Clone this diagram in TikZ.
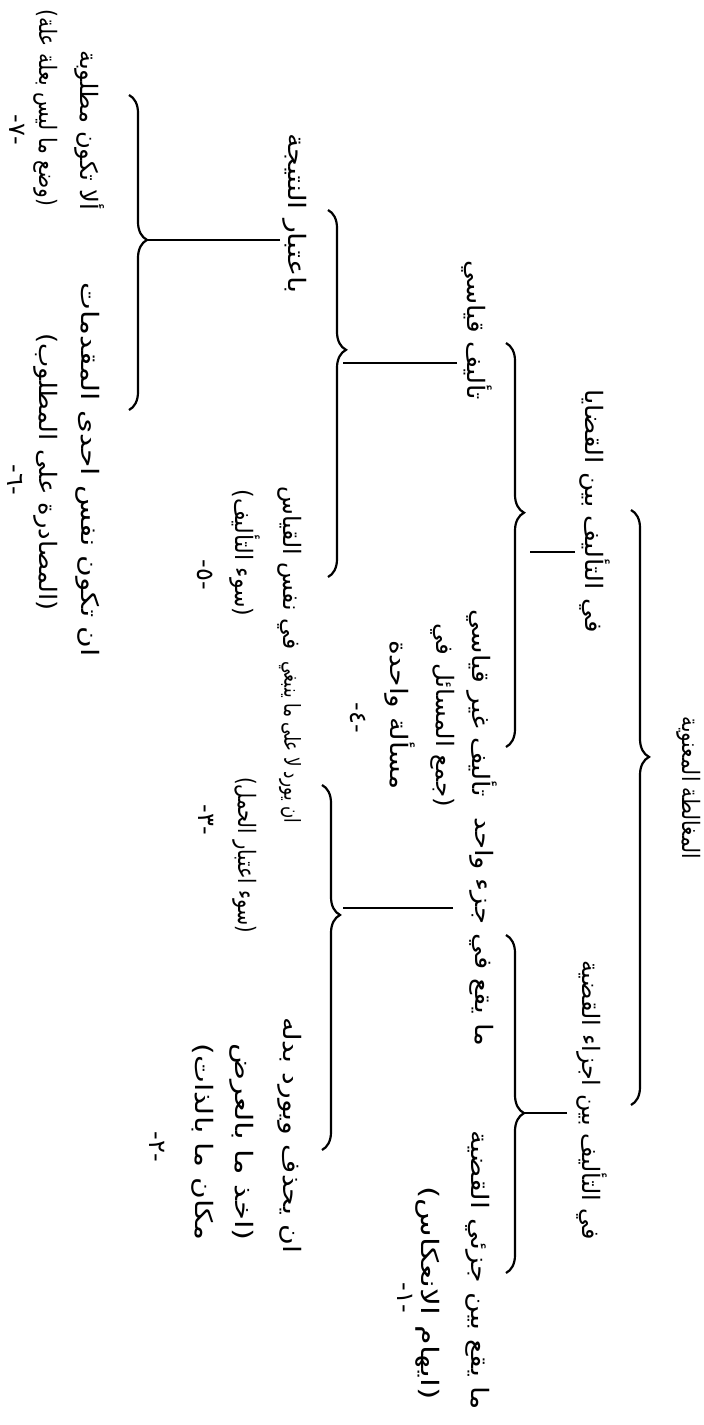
\documentclass[tikz,border=0pt]{standalone}
\usepackage{fontspec}
\usepackage{graphicx}
\usetikzlibrary{decorations.pathreplacing}
\TeXXeTstate=1
\newfontfamily\arabicfont[Script=Arabic]{DejaVu Sans}
\newcommand{\fitw}[2]{\resizebox{#1pt}{\height}{#2}}
\begin{document}
\begin{tikzpicture}[x=0.5pt,y=-0.5pt,
  txt/.style={rotate=-90, inner sep=0pt, font=\arabicfont\fontsize{12}{14}\selectfont},
  brc/.style={decorate, decoration={brace, amplitude=9pt}, line width=1.1pt},
  conn/.style={line width=1pt}]
\useasboundingbox (0,0) rectangle (703,1425);
\fill[white] (0,0) rectangle (703,1425);

% level 0
\node[txt] (root) at (689,788) {\fitw{71.5}{\beginR المغالطة المعنوية\endR}};
% level 1
\node[txt] (c1) at (595,511) {\fitw{121.5}{\beginR في التأليف بين القضايا\endR}};
\node[txt] (c2) at (592,1100) {\fitw{140}{\beginR في التأليف بين اجزاء القضية\endR}};
% level 2 left
\node[txt] (tq) at (477,330) {\fitw{70}{\beginR تأليف قياسي\endR}};
\node[txt] (tgqa) at (482,703) {\fitw{93.5}{\beginR تأليف غير قياسي\endR}};
\node[txt] (tgqb) at (443,715) {\fitw{92}{\beginR (جمع المسائل في\endR}};
\node[txt] (tgqc) at (400,715) {\fitw{75}{\beginR مسألة واحدة\endR}};
\node[txt] (n4) at (358,718) {\beginR -٤-\endR};
% level 2 right
\node[txt] (myj) at (482,932) {\fitw{114.5}{\beginR ما يقع في جزء واحد\endR}};
\node[txt] (myba) at (478,1270) {\fitw{140}{\beginR ما يقع بين جزئي القضية\endR}};
\node[txt] (mybb) at (428,1293) {\fitw{106.5}{\beginR (ايهام الانعكاس)\endR}};
\node[txt] (n1) at (405,1298) {\beginR -١-\endR};
% level 3 under tq
\node[txt] (bn) at (295,213) {\fitw{80}{\beginR باعتبار النتيجة\endR}};
\node[txt] (fqa) at (290,568) {\fitw{81.5}{\beginR في نفس القياس\endR}};
\node[txt] (fqb) at (245,553) {\fitw{63.5}{\beginR (سوء التأليف)\endR}};
\node[txt] (n5) at (205,575) {\beginR -٥-\endR};
% level 3 under myj
\node[txt, font=\arabicfont\fontsize{11}{13}\selectfont] (yra) at (290,742) {\fitw{81}{\beginR ان يورد لا على ما ينبغي\endR}};
\node[txt] (yrb) at (245,855) {\fitw{78}{\beginR (سوء اعتبار الحمل)\endR}};
\node[txt] (n3) at (206,820) {\beginR -٣-\endR};
\node[txt] (yha) at (290,1135) {\fitw{118}{\beginR ان يحذف ويورد بدله\endR}};
\node[txt] (yhb) at (242,1142) {\fitw{98.5}{\beginR (اخذ ما بالعرض\endR}};
\node[txt] (yhc) at (203,1142) {\fitw{98.5}{\beginR مكان ما بالذات)\endR}};
\node[txt] (n2) at (157,1147) {\beginR -٢-\endR};
% level 4 under bn
\node[txt] (ala) at (90,130) {\fitw{80}{\beginR ألا تكون مطلوبة\endR}};
\node[txt] (alb) at (46,108) {\fitw{98.5}{\beginR (وضع ما ليس بعلة علة)\endR}};
\node[txt] (n7) at (17,130) {\beginR -٧-\endR};
\node[txt] (ana) at (88,470) {\fitw{187}{\beginR ان تكون نفس احدى المقدمات\endR}};
\node[txt] (anb) at (46,472) {\fitw{138.5}{\beginR (المصادرة على المطلوب)\endR}};
\node[txt] (n6) at (15,480) {\beginR -٦-\endR};

% braces
\coordinate (b0s) at (631,510); \coordinate (b0e) at (631,1105);
\draw[brc, decoration={aspect=0.415}] (b0s) -- (b0e);
\coordinate (b1s) at (506,343); \coordinate (b1e) at (506,747);
\draw[brc, decoration={aspect=0.42}] (b1s) -- (b1e);
\coordinate (b2s) at (506,935); \coordinate (b2e) at (506,1273);
\draw[brc, decoration={aspect=0.527}] (b2s) -- (b2e);
\coordinate (b3s) at (328,210); \coordinate (b3e) at (328,577);
\draw[brc, decoration={aspect=0.381}] (b3s) -- (b3e);
\coordinate (b4s) at (322,785); \coordinate (b4e) at (322,1150);
\draw[brc, decoration={aspect=0.356}] (b4s) -- (b4e);
\coordinate (b5s) at (129,95); \coordinate (b5e) at (129,410);
\draw[brc, decoration={aspect=0.46}] (b5s) -- (b5e);

% connectors
\coordinate (l0a) at (575,552); \coordinate (l0b) at (530,552);
\draw[conn] (l0a) -- (l0b);
\coordinate (l1a) at (567,1113); \coordinate (b2t) at (524,1113);
\draw[conn] (l1a) -- (b2t);
\coordinate (l2a) at (457,363); \coordinate (l2b) at (343,363);
\draw[conn] (l2a) -- (l2b);
\coordinate (l3a) at (453,908); \coordinate (l3b) at (343,908);
\draw[conn] (l3a) -- (l3b);
\coordinate (l4a) at (280,240); \coordinate (b5t) at (147,240);
\draw[conn] (l4a) -- (b5t);
\end{tikzpicture}
\end{document}
